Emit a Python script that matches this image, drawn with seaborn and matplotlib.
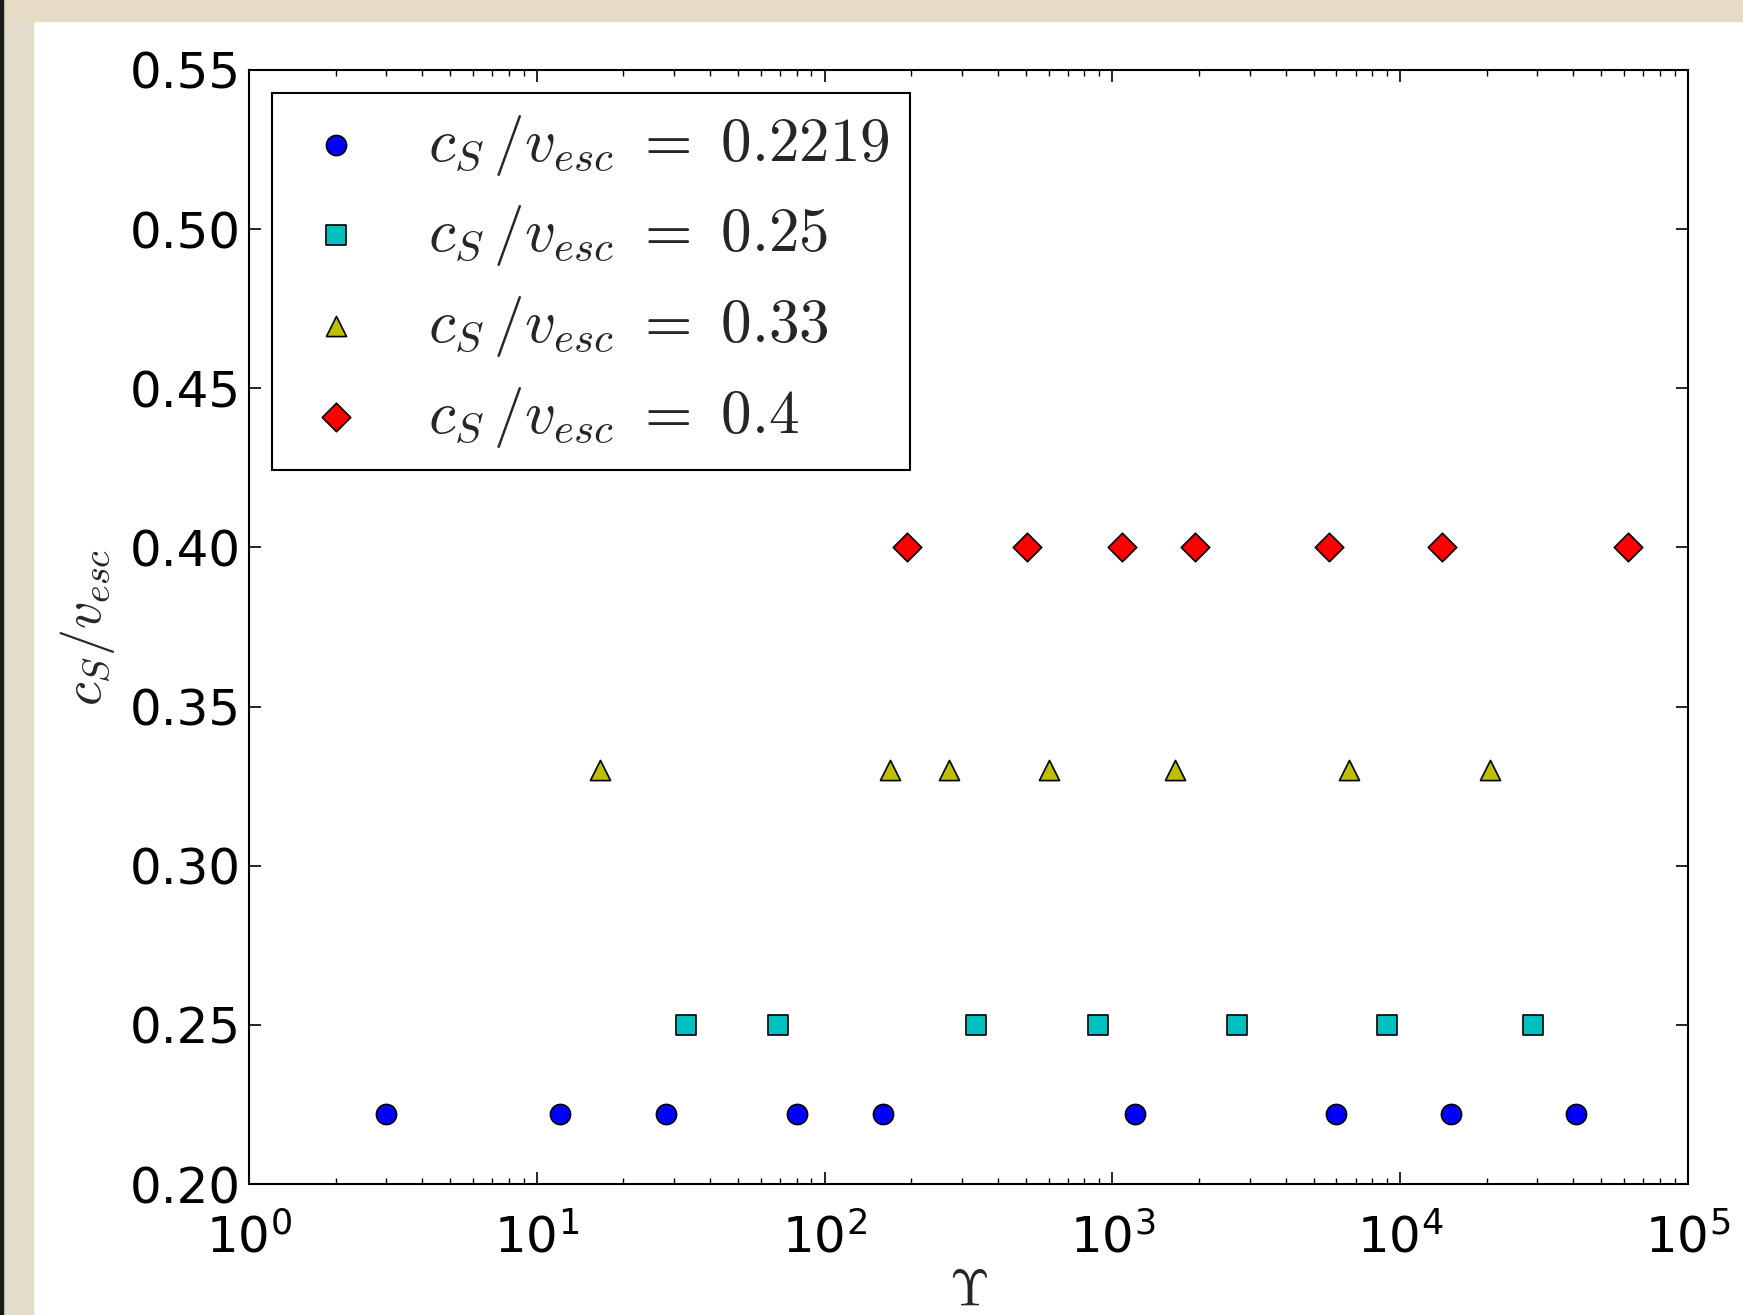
import matplotlib
matplotlib.use('Agg')
import matplotlib.pyplot as plt
import matplotlib.ticker as mticker
from matplotlib.patches import Rectangle
import seaborn as sns

# Upsilon values, one list per sound-speed ratio
ups_2219 = [3, 12, 28, 80, 160, 1200, 6000, 15000, 41000]
ups_25 = [33, 69, 335, 890, 2700, 9000, 29000]
ups_33 = [16.6, 169, 271, 603, 1645, 6640, 20500]
ups_40 = [193, 504, 1083, 1930, 5660, 14000, 62000]

ratios = [0.2219, 0.25, 0.33, 0.4]
ratio_labels = ['0.2219', '0.25', '0.33', '0.4']
series = [ups_2219, ups_25, ups_33, ups_40]
markers = ['o', 's', '^', 'D']
colors = ['#0000ff', '#00bfbf', '#bfbf00', '#ff0000']

y_ticks = [0.20, 0.25, 0.30, 0.35, 0.40, 0.45, 0.50, 0.55]

sns.set_style('ticks')
plt.rcParams['font.family'] = ['DejaVu Sans']
plt.rcParams['mathtext.fontset'] = 'cm'

fig = plt.figure(figsize=(17.43, 13.15), dpi=100, facecolor='white')
fig.subplots_adjust(left=0.1429, right=0.9684, bottom=0.0996, top=0.9468)
ax = fig.add_subplot(111)

# beige photo-like frame at top and left edges
fig.add_artist(Rectangle((0, 0), 33 / 1743, 1, transform=fig.transFigure,
                         color='#e2dccd', zorder=-5))
fig.add_artist(Rectangle((0, 1 - 21 / 1315), 1, 21 / 1315, transform=fig.transFigure,
                         color='#e6dcc6', zorder=-5))
fig.add_artist(Rectangle((0, 0), 3 / 1743, 1, transform=fig.transFigure,
                         color='#1a1a1a', zorder=-4))

for ups, r, lab, m, c in zip(series, ratios, ratio_labels, markers, colors):
    sns.scatterplot(x=ups, y=[r] * len(ups), marker=m, color=c, s=210,
                    edgecolor='black', linewidth=1.2, ax=ax,
                    label=r'$c_S\,/v_{esc}\ =\ %s$' % lab, zorder=3)

ax.set_xscale('log')
ax.set_xlim(1, 1e5)
ax.set_ylim(0.20, 0.55)
ax.set_yticks(y_ticks)
ax.yaxis.set_major_formatter(mticker.FormatStrFormatter('%.2f'))
ax.xaxis.set_minor_locator(mticker.LogLocator(base=10, subs=range(2, 10), numticks=20))

for side in ['top', 'right', 'left', 'bottom']:
    ax.spines[side].set_visible(True)
    ax.spines[side].set_linewidth(1.5)
    ax.spines[side].set_color('black')

ax.tick_params(which='both', direction='in', top=True, right=True, colors='black')
ax.tick_params(which='major', length=8.6, width=1.2, labelsize=36)
ax.tick_params(axis='x', which='major', pad=21)
ax.tick_params(axis='y', which='major', pad=6)
ax.tick_params(which='minor', length=4.3, width=1.0)
ax.tick_params(axis='y', which='minor', left=False, right=False)

ax.set_xlabel(r'$\Upsilon$', fontsize=37, labelpad=2)
ax.set_ylabel(r'$c_S/v_{esc}$', fontsize=39, labelpad=9)

leg = ax.legend(loc='upper left', fontsize=44, frameon=True, fancybox=False,
                framealpha=1, edgecolor='black', borderpad=0.33, labelspacing=0.42,
                handlelength=1.45, handletextpad=0.78, borderaxespad=0.37,
                scatterpoints=1)
leg.get_frame().set_linewidth(1.5)

fig.savefig('out.png', dpi=100, facecolor=fig.get_facecolor())
